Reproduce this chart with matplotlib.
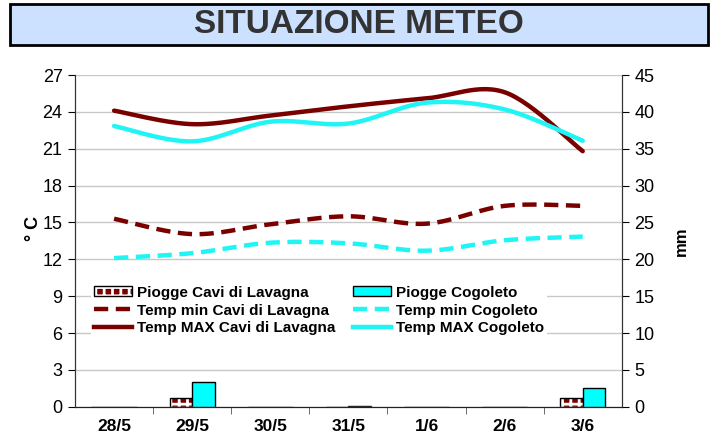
import numpy as np
import matplotlib
matplotlib.use('Agg')
import matplotlib.pyplot as plt
from matplotlib.patches import Rectangle, Patch
from matplotlib.lines import Line2D

plt.rcParams['font.family'] = ['Liberation Sans', 'DejaVu Sans']
plt.rcParams['hatch.linewidth'] = 2.0

# data
days = ['28/5', '29/5', '30/5', '31/5', '1/6', '2/6', '3/6']
rain_cavi = [0, 1.2, 0, 0, 0, 0, 1.2]
rain_cogo = [0, 3.4, 0, 0.15, 0, 0, 2.6]
tmin_cavi = [15.3, 14.05, 14.85, 15.5, 14.9, 16.35, 16.35]
tmin_cogo = [12.1, 12.5, 13.35, 13.3, 12.7, 13.55, 13.85]
tmax_cavi = [24.1, 23.0, 23.7, 24.45, 25.1, 25.6, 20.8]
tmax_cogo = [22.85, 21.6, 23.2, 23.05, 24.75, 24.2, 21.65]

dark = '#7a0000'
cyan = '#1ff5f5'


def smooth(y, n=30):
    # excel style bezier smoothing between the points
    y = np.asarray(y, float)
    x = np.arange(len(y), dtype=float)
    xs, ys = [], []
    for i in range(len(y) - 1):
        pm = max(i - 1, 0)
        pp = min(i + 2, len(y) - 1)
        p0x, p0y = x[i], y[i]
        p3x, p3y = x[i + 1], y[i + 1]
        p1x = p0x + (x[i + 1] - x[pm]) / 6
        p1y = p0y + (y[i + 1] - y[pm]) / 6
        p2x = p3x - (x[pp] - x[i]) / 6
        p2y = p3y - (y[pp] - y[i]) / 6
        t = np.linspace(0, 1, n)
        a, b, c, d = (1 - t)**3, 3 * (1 - t)**2 * t, 3 * (1 - t) * t**2, t**3
        xs.append(a * p0x + b * p1x + c * p2x + d * p3x)
        ys.append(a * p0y + b * p1y + c * p2y + d * p3y)
    return np.concatenate(xs), np.concatenate(ys)


fig = plt.figure(figsize=(7.18, 4.37), dpi=100)

# title box
fig.add_artist(Rectangle((0.0139, 0.897), 0.972, 0.0938, transform=fig.transFigure,
                         facecolor='#cce0ff', edgecolor='black', linewidth=2))
fig.text(0.5, 0.943, 'SITUAZIONE METEO', ha='center', va='center', fontsize=24,
         fontweight='bold', color='#333333')

ax = fig.add_axes([0.1045, 0.0693, 0.7615, 0.759])
ax2 = ax.twinx()

x = np.arange(len(days))
w = 0.29
ax2.bar(x - w / 2, rain_cavi, w, color=dark, edgecolor='white', hatch='++', linewidth=0, zorder=2)
ax2.bar(x - w / 2, rain_cavi, w, fill=False, edgecolor='black', linewidth=1, zorder=3)
ax2.bar(x + w / 2, rain_cogo, w, color='#00ffff', edgecolor='black', linewidth=1, zorder=3)

ax.set_zorder(ax2.get_zorder() + 1)
ax.patch.set_visible(False)

ax.plot(*smooth(tmin_cavi), color=dark, lw=3.2, dashes=(3.2, 1.7), solid_capstyle='round')
ax.plot(*smooth(tmin_cogo), color=cyan, lw=3.2, dashes=(3.2, 1.7))
ax.plot(*smooth(tmax_cavi), color=dark, lw=3.2, solid_capstyle='round')
ax.plot(*smooth(tmax_cogo), color=cyan, lw=3.2, solid_capstyle='round')

ax.set_xlim(-0.5, len(days) - 0.5)
ax.set_ylim(0, 27)
ax.set_yticks(np.arange(0, 28, 3))
ax2.set_ylim(0, 45)
ax2.set_yticks(np.arange(0, 46, 5))
ax.yaxis.grid(True, color='#c8c8c8', lw=1)
ax.set_axisbelow(True)

ax.set_xticks(x)
ax.set_xticklabels(days, fontsize=12.5, fontweight='bold')
ax.set_xticks(np.arange(0.5, len(days) - 0.5, 1), minor=True)
ax.tick_params(axis='x', which='major', length=0, pad=9)
ax.tick_params(axis='x', which='minor', length=5, color='#555555', direction='out')
ax.tick_params(axis='y', labelsize=13, length=5, direction='out', pad=4)
ax2.tick_params(axis='y', labelsize=13, length=5, direction='out', pad=4)

for a in (ax, ax2):
    a.spines['top'].set_visible(False)
    a.spines['left'].set_color('#333333')
    a.spines['right'].set_color('#333333')
    a.spines['bottom'].set_color('#222222')

fig.text(0.047, 0.478, '° C', rotation=90, ha='center', va='center',
         fontsize=13, fontweight='bold')
ax2.set_ylabel('mm', fontsize=12, fontweight='bold', labelpad=14)

handles = [
    (Patch(facecolor=dark, edgecolor='white', hatch='++', linewidth=0),
     Patch(fill=False, edgecolor='black', linewidth=1)),
    Line2D([], [], color=dark, lw=3.2, dashes=(3.2, 1.7)),
    Line2D([], [], color=dark, lw=3.2),
    Patch(facecolor='#00ffff', edgecolor='black'),
    Line2D([], [], color=cyan, lw=3.2, dashes=(3.2, 1.7)),
    Line2D([], [], color=cyan, lw=3.2),
]
labels = ['Piogge Cavi di Lavagna', 'Temp min Cavi di Lavagna', 'Temp MAX Cavi di Lavagna',
          'Piogge Cogoleto', 'Temp min Cogoleto', 'Temp MAX Cogoleto']
leg = ax.legend(handles, labels, ncol=2, loc='upper left', bbox_to_anchor=(0.015, 0.397),
                frameon=True, fancybox=False, edgecolor='none', framealpha=1,
                prop={'weight': 'bold', 'size': 11}, handlelength=2.5, handleheight=0.6,
                handletextpad=0.35, labelspacing=0.25, columnspacing=1.1, borderpad=0.2)

fig.savefig('out.png', dpi=100)
